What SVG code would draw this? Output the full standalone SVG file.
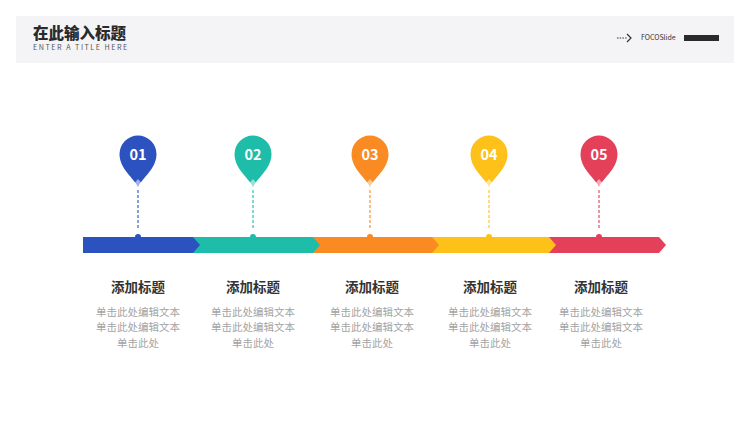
<svg xmlns="http://www.w3.org/2000/svg" width="750" height="422" viewBox="0 0 750 422">
<style>
text{font-family:"Noto Sans CJK SC","Liberation Sans",sans-serif}
.num{font-size:14.5px;font-weight:700;fill:#fff;text-anchor:middle}
.ttl{font-size:13.5px;font-weight:700;fill:#333;text-anchor:middle}
.desc{font-size:10.5px;fill:#a3a3a3;text-anchor:middle}
.dash{stroke-width:1.5;stroke-dasharray:3 2;fill:none;stroke-opacity:0.75}
</style>
<rect width="750" height="422" fill="#fff"/>
<g id="header">
<rect x="16" y="16" width="718" height="47" fill="#f4f4f6"/>
<text x="33" y="39" font-size="15.5" font-weight="900" fill="#2a2a2a">在此输入标题</text>
<text x="33" y="49.5" font-size="7.2" fill="#555" letter-spacing="1.5" font-family="Liberation Sans,sans-serif">ENTER A TITLE HERE</text>
<line x1="617" y1="38" x2="627" y2="38" stroke="#333" stroke-width="1" stroke-dasharray="1.5 1.2"/>
<path d="M627 34 L631 38 L627 42" fill="none" stroke="#333" stroke-width="1.2"/>
<text x="641" y="40" font-size="7" fill="#333">FOCOSlide</text>
<rect x="684" y="35" width="35" height="6" fill="#2a2a2a"/>
</g>
<g id="connectors">
<line class="dash" x1="138" y1="190" x2="138" y2="230" stroke="#2b52be"/>
<line class="dash" x1="253" y1="190" x2="253" y2="230" stroke="#1dbda9"/>
<line class="dash" x1="370" y1="190" x2="370" y2="230" stroke="#fa8a22"/>
<line class="dash" x1="489" y1="190" x2="489" y2="230" stroke="#fdc119"/>
<line class="dash" x1="599" y1="190" x2="599" y2="230" stroke="#e5405a"/>
</g>
<g id="bar">
<polygon points="548,237 659,237 666,245 659,253 548,253" fill="#e5405a"/>
<polygon points="432,237 549,237 556,245 549,253 432,253" fill="#fdc119"/>
<polygon points="312,237 432,237 439,245 432,253 312,253" fill="#fa8a22"/>
<polygon points="193,237 313,237 320,245 313,253 193,253" fill="#1dbda9"/>
<polygon points="83,237 193,237 200,245 193,253 83,253" fill="#2b52be"/>
<circle cx="138" cy="237" r="3" fill="#2b52be"/>
<circle cx="253" cy="237" r="3" fill="#1dbda9"/>
<circle cx="370" cy="237" r="3" fill="#fa8a22"/>
<circle cx="489" cy="237" r="3" fill="#fdc119"/>
<circle cx="599" cy="237" r="3" fill="#e5405a"/>
</g>
<defs>
<path id="pin" d="M0,33 C-4,24 -18.5,15 -18.5,0 A18.5,18.5 0 1 1 18.5,0 C18.5,15 4,24 0,33 Z"/>
<path id="dia" d="M0,25 L3.5,29 L0,33 L-3.5,29 Z" fill="#fff" fill-opacity="0.55"/>
</defs>
<g id="node1">
<use href="#pin" x="138" y="154" fill="#2b52be"/><use href="#dia" x="138" y="154"/>
<text class="num" x="138" y="159.5">01</text>
<text class="ttl" x="138" y="292">添加标题</text>
<text class="desc" x="138" y="316">单击此处编辑文本</text>
<text class="desc" x="138" y="331">单击此处编辑文本</text>
<text class="desc" x="138" y="347">单击此处</text>
</g>
<g id="node2">
<use href="#pin" x="253" y="154" fill="#1dbda9"/><use href="#dia" x="253" y="154"/>
<text class="num" x="253" y="159.5">02</text>
<text class="ttl" x="253" y="292">添加标题</text>
<text class="desc" x="253" y="316">单击此处编辑文本</text>
<text class="desc" x="253" y="331">单击此处编辑文本</text>
<text class="desc" x="253" y="347">单击此处</text>
</g>
<g id="node3">
<use href="#pin" x="370" y="154" fill="#fa8a22"/><use href="#dia" x="370" y="154"/>
<text class="num" x="370" y="159.5">03</text>
<text class="ttl" x="372" y="292">添加标题</text>
<text class="desc" x="372" y="316">单击此处编辑文本</text>
<text class="desc" x="372" y="331">单击此处编辑文本</text>
<text class="desc" x="372" y="347">单击此处</text>
</g>
<g id="node4">
<use href="#pin" x="489" y="154" fill="#fdc119"/><use href="#dia" x="489" y="154"/>
<text class="num" x="489" y="159.5">04</text>
<text class="ttl" x="490" y="292">添加标题</text>
<text class="desc" x="490" y="316">单击此处编辑文本</text>
<text class="desc" x="490" y="331">单击此处编辑文本</text>
<text class="desc" x="490" y="347">单击此处</text>
</g>
<g id="node5">
<use href="#pin" x="599" y="154" fill="#e5405a"/><use href="#dia" x="599" y="154"/>
<text class="num" x="599" y="159.5">05</text>
<text class="ttl" x="601" y="292">添加标题</text>
<text class="desc" x="601" y="316">单击此处编辑文本</text>
<text class="desc" x="601" y="331">单击此处编辑文本</text>
<text class="desc" x="601" y="347">单击此处</text>
</g>
</svg>
